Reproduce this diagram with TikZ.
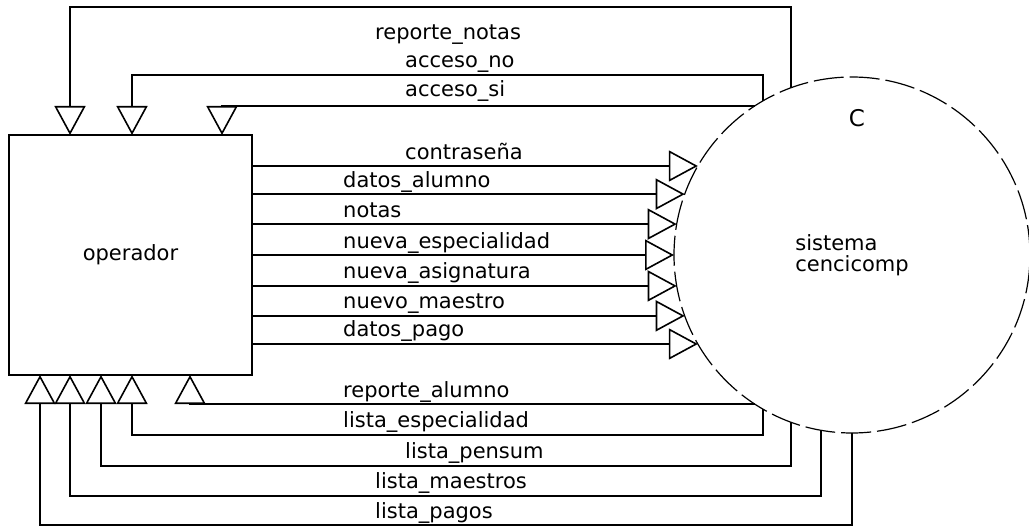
\documentclass[tikz,border=0pt]{standalone}
\usepackage{fontspec}
\setmainfont{DejaVu Sans}
\usetikzlibrary{arrows.meta,calc,positioning}

\begin{document}
\begin{tikzpicture}[x=1pt,y=-1pt,
	flow/.style={line width=1.6pt, -{Triangle[open,length=29pt,width=31pt]}},
	lbl/.style={font=\fontsize{21}{21}\selectfont, anchor=base west, inner sep=0pt}]

\pgfmathsetmacro{\rad}{178}

\useasboundingbox (0,0) rectangle (1029,527);

% NODES

\node(op)[draw, line width=1.6pt, outer sep=0pt,
			minimum width=243pt,
			minimum height=240pt,
			font=\fontsize{21}{21}\selectfont]  at (130.5,255)   {operador};

\node(sys)[draw, circle, line width=1.2pt, outer sep=0pt, inner sep=0pt,
			dash pattern=on 30pt off 6pt,
			minimum size=2*\rad pt,
			align=left,
			font=\fontsize{21}{21}\selectfont]  at (852,255)   {sistema\\cencicomp};

\node(sysid)[font=\fontsize{23}{23}\selectfont, inner sep=0pt]  at (857,118)   {C};

% ends on the box
\coordinate (n1) at ($(op.north west)+(61,0)$);
\coordinate (n2) at ($(op.north west)+(123,0)$);
\coordinate (n3) at ($(op.north west)+(213,0)$);
\coordinate (s1) at ($(op.south west)+(31,0)$);
\coordinate (s2) at ($(op.south west)+(61,0)$);
\coordinate (s3) at ($(op.south west)+(92,0)$);
\coordinate (s4) at ($(op.south west)+(123,0)$);
\coordinate (s5) at ($(op.south west)+(181,0)$);

% FLOWS operador -> sistema
\foreach \ang/\dx/\txt in {150/153/contraseña, 160/91/datos\_alumno, 170/91/notas,
		180/91/nueva\_especialidad, 190/91/nueva\_asignatura, 200/91/nuevo\_maestro,
		210/91/datos\_pago}{
	\draw[flow] (op.east |- sys.\ang) -- (sys.\ang);
	\path (op.east |- sys.\ang) ++(\dx,-7) node[lbl] {\txt};
}

% FLOWS sistema -> operador (top)
\draw[flow] (sys.110) -- ++(0,-81) -| (n1);
\draw[flow] (sys.120) -- ++(0,-26) -| (n2);
\draw[flow] (sys.123) -| (n3);

% FLOWS sistema -> operador (bottom)
\draw[flow] (sys.237) -| (s5);
\draw[flow] (sys.240) -- ++(0,26) -| (s4);
\draw[flow] (sys.250) -- ++(0,44) -| (s3);
\draw[flow] (sys.260) -- ++(0,66) -| (s2);
\draw[flow] (sys.270) -- ++(0,92) -| (s1);

% labels
\foreach \lx/\ly/\txt in {375/40/reporte\_notas, 405/67/acceso\_no, 405/97/acceso\_si,
		343/397/reporte\_alumno, 343/427/lista\_especialidad, 405/458/lista\_pensum,
		375/488/lista\_maestros, 375/518/lista\_pagos}
	\node[lbl] at (\lx,\ly) {\txt};

\end{tikzpicture}
\end{document}
